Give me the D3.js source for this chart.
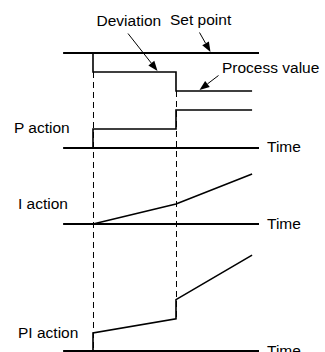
<!DOCTYPE html>
<html>
<head>
<meta charset="utf-8">
<script src="https://cdn.jsdelivr.net/npm/d3@7"></script>
<style>
  html, body { margin: 0; padding: 0; background: #fff; }
  svg { display: block; }
  text { font-family: "Liberation Sans", Arial, sans-serif; font-size: 15.5px; fill: #000; }
</style>
</head>
<body>
<svg id="chart" width="325" height="352"></svg>
<script>
// ---- data (time in arbitrary units, values in arbitrary units) ----
const axisTimes = [-0.08, 7];
const stepTimes = [1, 4];                 // deviation steps
const setPointValue = 2;
const pvTimes  = [1, 1, 4, 4, 6.75];
const pvValues = [2, 1, 1, 0, 0];
const pTimes   = [1, 1, 4, 4, 6.75];
const pValues  = [0, 1, 1, 2, 2];
const iTimes   = [1, 4, 6.75];
const iValues  = [0, 1.05, 2.63];
const piTimes  = [1, 1, 4, 4, 6.75];
const piValues = [0, 0.95, 1.7, 2.72, 5.07];
const panelLabels = ["P action", "I action", "PI action"];
const axisLabel = "Time";
const annotations = ["Deviation", "Set point", "Process value"];

// ---- layout ----
const svg = d3.select("#chart");
const x = d3.scaleLinear().domain([0, 7]).range([65.33, 259]);
const unit = 19; // px per value unit
function panelScale(baseY) {
  return d3.scaleLinear().domain([0, 1]).range([baseY, baseY - unit]);
}
const yTop = d3.scaleLinear().domain([0, 2]).range([91, 53]);
const yP  = panelScale(148);
const yI  = panelScale(224);
const yPI = d3.scaleLinear().domain([0, 1]).range([351, 351 - 18.9]);

const zip = (ts, vs) => ts.map((t, i) => [t, vs[i]]);
function drawLine(data, yScale, width, dash) {
  const line = d3.line().x(d => x(d[0])).y(d => yScale(d[1]));
  const p = svg.append("path")
    .attr("d", line(data))
    .attr("fill", "none")
    .attr("stroke", "#000")
    .attr("stroke-width", width)
    .attr("stroke-linejoin", "miter")
    .attr("stroke-linecap", "butt");
  if (dash) p.attr("stroke-dasharray", dash).attr("transform", "translate(0.5,0)");
  return p;
}

// dashed guide lines
drawLine([[stepTimes[0], 0], [stepTimes[0], 1]], d3.scaleLinear().domain([0, 1]).range([yTop(1), yPI(0)]), 1, "6,4");
drawLine([[stepTimes[1], 0], [stepTimes[1], 1]], d3.scaleLinear().domain([0, 1]).range([yTop(0), yPI(piValues[2])]), 1, "6,4");

// set point line
drawLine(axisTimes.map(t => [t, setPointValue]), yTop, 2);
// process value
drawLine(zip(pvTimes, pvValues), yTop, 1.6);

// time axes
[yP, yI, yPI].forEach(ys => drawLine(axisTimes.map(t => [t, 0]), ys, 2));

// signals
drawLine(zip(pTimes, pValues), yP, 1.6);
drawLine(zip(iTimes, iValues), yI, 1.6);
drawLine(zip(piTimes, piValues), yPI, 1.6);

// Time labels
[[yP, 4], [yI, 5], [yPI, 4.5]].forEach(([ys, dy]) => {
  svg.append("text").attr("x", 267).attr("y", ys(0) + dy).text(axisLabel);
});

// panel labels
svg.append("text").attr("x", 14).attr("y", 133).text(panelLabels[0]);
svg.append("text").attr("x", 18).attr("y", 209).text(panelLabels[1]);
svg.append("text").attr("x", 18).attr("y", 337.5).text(panelLabels[2]);

// annotations
svg.append("text").attr("x", 96.5).attr("y", 25.5).text(annotations[0]);
svg.append("text").attr("x", 170).attr("y", 25).text(annotations[1]);
svg.append("text").attr("x", 222).attr("y", 72.5).text(annotations[2]);

// arrows
function arrow(x1, y1, x2, y2) {
  const len = 10, half = 3.8;
  const dx = x2 - x1, dy = y2 - y1, L = Math.hypot(dx, dy);
  const ux = dx / L, uy = dy / L;
  const bx = x2 - ux * len, by = y2 - uy * len;
  svg.append("line").attr("x1", x1).attr("y1", y1).attr("x2", bx).attr("y2", by)
    .attr("stroke", "#000").attr("stroke-width", 1);
  svg.append("path")
    .attr("d", `M${x2},${y2}L${bx - uy * half},${by + ux * half}L${bx + uy * half},${by - ux * half}Z`)
    .attr("fill", "#000");
}
arrow(128, 33.5, x(3.35) - 0.5, yTop(1) - 1);
arrow(199.5, 32.5, 210.5, yTop(2) - 1);
arrow(218.5, 75.5, 199.5, yTop(0) - 1);
</script>
</body>
</html>
